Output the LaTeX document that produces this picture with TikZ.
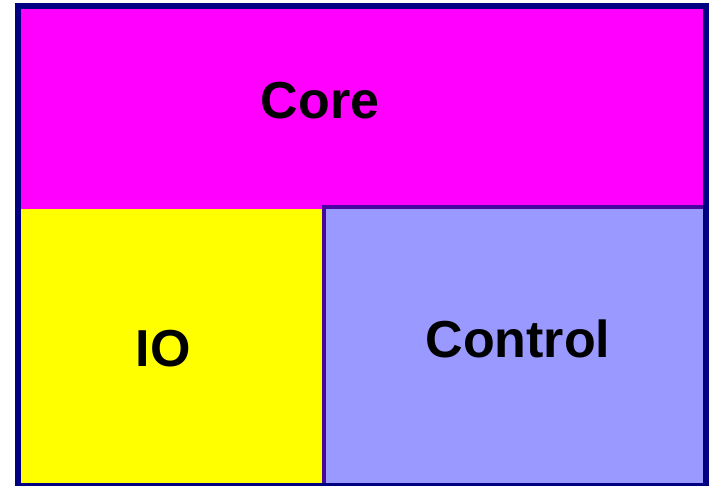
\documentclass[tikz,border=0pt]{standalone}
\usepackage{fontspec}
\setmainfont{Liberation Sans}
\definecolor{outerblue}{RGB}{0,0,128}
\definecolor{ctrlborder}{RGB}{72,8,160}
\definecolor{corefill}{RGB}{255,0,255}
\definecolor{iofill}{RGB}{255,255,0}
\definecolor{ctrlfill}{RGB}{153,153,255}
\tikzset{
  lbl/.style={anchor=base, inner sep=0pt, font=\fontsize{52}{60}\selectfont\bfseries, text=black}
}
\begin{document}
\begin{tikzpicture}[x=1pt,y=-1pt]
\useasboundingbox (0,0) rectangle (713,486);
\begin{scope}
\clip (0,0) rectangle (713,486);
% Core
\fill[corefill] (18,6) rectangle (705.7,209);
% IO
\fill[iofill] (18,209) rectangle (323.7,486);
% Control
\draw[ctrlborder, fill=ctrlfill, line width=4.3pt] (323.7,207.3) rectangle (705.7,485.7);
% outer border
\draw[outerblue, line width=6pt] (18,6) rectangle (705.7,485.7);
\end{scope}
\node[lbl] (core) at (320,119) {Core};
\node[lbl] (io) at (163,367) {IO};
\node[lbl] (control) at (518,357.5) {Control};
\end{tikzpicture}
\end{document}
